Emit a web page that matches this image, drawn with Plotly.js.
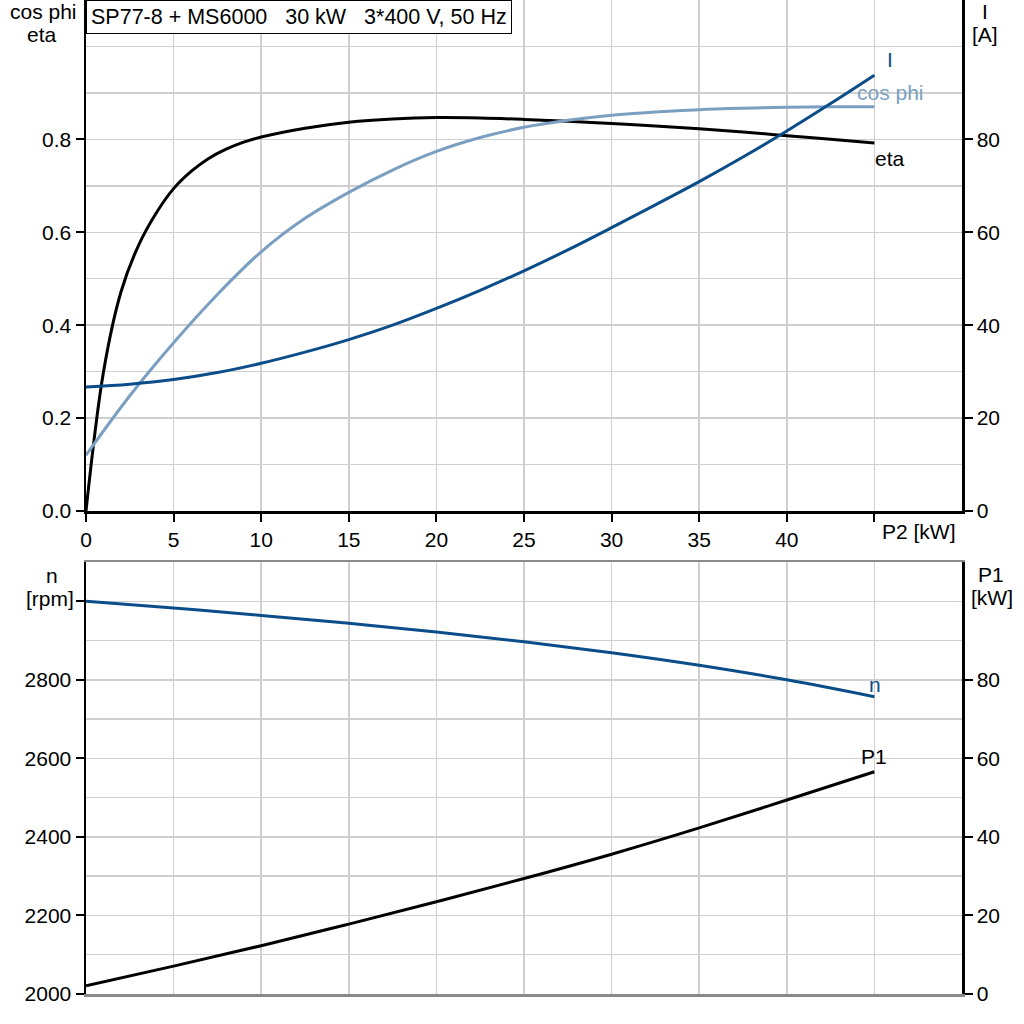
<!DOCTYPE html>
<html>
<head>
<meta charset="utf-8">
<script src="https://cdn.plot.ly/plotly-3.0.1.min.js"></script>
<style>html,body{margin:0;padding:0;background:#fff;}#chart{width:1024px;height:1024px;}</style>
</head>
<body>
<div id="chart"></div>
<script>
// ---- data ----
const titleText = "SP77-8 + MS6000\u00a0\u00a0\u00a030 kW\u00a0\u00a0\u00a03*400 V, 50 Hz";

const etaX = [0, 1, 2, 3, 4, 5, 6, 7, 8, 9, 10, 12.5, 15, 17.5, 20, 22.5, 25, 27.5, 30, 32.5, 35, 37.5, 40, 42.5, 45];
const etaY = [0, 0.300, 0.472, 0.572, 0.641, 0.694, 0.731, 0.759, 0.779, 0.794, 0.805, 0.824, 0.837, 0.844, 0.847, 0.846, 0.843, 0.839, 0.834, 0.829, 0.823, 0.816, 0.808, 0.800, 0.792];

const cosX = [0, 2.5, 5, 7.5, 10, 12.5, 15, 17.5, 20, 22.5, 25, 27.5, 30, 32.5, 35, 37.5, 40, 42.5, 45];
const cosY = [0.12, 0.248, 0.362, 0.466, 0.558, 0.630, 0.686, 0.734, 0.774, 0.804, 0.826, 0.841, 0.852, 0.859, 0.864, 0.867, 0.869, 0.870, 0.870];

const curX = [0, 2.5, 5, 7.5, 10, 12.5, 15, 17.5, 20, 22.5, 25, 27.5, 30, 32.5, 35, 37.5, 40, 42.5, 45];
const curY = [26.7, 27.3, 28.3, 29.8, 31.8, 34.2, 36.9, 40.0, 43.6, 47.5, 51.7, 56.2, 61.0, 65.9, 70.9, 76.2, 81.8, 87.7, 93.8];

const nX = [0, 5, 10, 15, 20, 25, 30, 35, 40, 45];
const nY = [3000, 2983, 2964, 2944, 2922, 2897, 2869, 2837, 2800, 2757];

const p1X = [0, 5, 10, 15, 20, 25, 30, 35, 40, 45];
const p1Y = [2.1, 7.1, 12.3, 17.8, 23.5, 29.4, 35.6, 42.3, 49.4, 56.6];

const xTickVals = [0, 5, 10, 15, 20, 25, 30, 35, 40, 45];
const xTickText = ["0", "5", "10", "15", "20", "25", "30", "35", "40", ""];
const effTickVals = [0, 0.2, 0.4, 0.6, 0.8];
const effTickText = ["0.0", "0.2", "0.4", "0.6", "0.8"];
const ampTickVals = [0, 20, 40, 60, 80];
const rpmTickVals = [2000, 2200, 2400, 2600, 2800, 3000];
const rpmTickText = ["2000", "2200", "2400", "2600", "2800", ""];
const kwTickVals = [0, 20, 40, 60, 80];

// ---- styling ----
const FONT = "Liberation Sans, Arial, sans-serif";
const FS = 21;
const DARK = "#0b4d89";
const LIGHT = "#7a9fc1";
const GRID = "#cfcfcf";
const L = 86, R = 62, T = 0, B = 30;
const PW = 1024 - L - R, PH = 1024 - T - B;
const px = v => (v - L) / PW;
const py = v => (PH + T - v) / PH;

const lineStyle = c => ({color: c, width: 3, shape: 'spline', smoothing: 1});
const traces = [
  {x: etaX, y: etaY, xaxis: 'x', yaxis: 'y', mode: 'lines', line: lineStyle('#000'), hoverinfo: 'skip'},
  {x: cosX, y: cosY, xaxis: 'x', yaxis: 'y', mode: 'lines', line: lineStyle(LIGHT), hoverinfo: 'skip'},
  {x: curX, y: curY, xaxis: 'x', yaxis: 'y2', mode: 'lines', line: lineStyle(DARK), hoverinfo: 'skip'},
  {x: nX, y: nY, xaxis: 'x2', yaxis: 'y3', mode: 'lines', line: lineStyle(DARK), hoverinfo: 'skip'},
  {x: p1X, y: p1Y, xaxis: 'x2', yaxis: 'y4', mode: 'lines', line: lineStyle('#000'), hoverinfo: 'skip'}
];

const topDomain = [py(511), 1];
const botDomain = [0, py(562)];

const tickFont = {family: FONT, size: FS, color: '#000'};

function ann(text, x, y, color, extra) {
  return Object.assign({
    text: text, xref: 'paper', yref: 'paper', x: px(x), y: py(y),
    xanchor: 'center', yanchor: 'middle', showarrow: false,
    font: {family: FONT, size: FS, color: color || '#000'}
  }, extra || {});
}

const layout = {
  width: 1024, height: 1024,
  margin: {l: L, r: R, t: T, b: B, pad: 0},
  paper_bgcolor: '#fff', plot_bgcolor: '#fff',
  showlegend: false,
  font: {family: FONT, size: FS, color: '#000'},
  xaxis: {
    domain: [0, 1], anchor: 'y', range: [0, 50],
    tickmode: 'array', tickvals: xTickVals, ticktext: xTickText,
    ticks: 'outside', ticklen: 8, tickwidth: 2, tickcolor: '#000',
    showline: true, linecolor: '#000', linewidth: 2.5,
    showgrid: true, gridcolor: GRID, gridwidth: 1.5, zeroline: false,
    tickfont: tickFont
  },
  yaxis: {
    domain: topDomain, anchor: 'x', range: [0, 1.1],
    tickmode: 'array', tickvals: effTickVals, ticktext: effTickText,
    ticks: 'outside', ticklen: 8, tickwidth: 2, tickcolor: '#000',
    showline: true, linecolor: '#000', linewidth: 2.5,
    showgrid: true, gridcolor: GRID, gridwidth: 1.5, zeroline: false,
    minor: {tick0: 0, dtick: 0.1, showgrid: true, gridcolor: GRID, gridwidth: 1.5, ticks: ''},
    tickfont: tickFont
  },
  yaxis2: {
    overlaying: 'y', side: 'right', anchor: 'x', range: [0, 110],
    tickmode: 'array', tickvals: ampTickVals,
    ticks: 'outside', ticklen: 8, tickwidth: 2, tickcolor: '#000',
    showline: true, linecolor: '#000', linewidth: 2.5,
    showgrid: false, zeroline: false, tickfont: tickFont
  },
  xaxis2: {
    domain: [0, 1], anchor: 'y3', range: [0, 50],
    tickmode: 'array', tickvals: xTickVals,
    ticks: '', showticklabels: false,
    showline: true, mirror: true, linecolor: '#8a8a8a', linewidth: 2.5,
    showgrid: true, gridcolor: GRID, gridwidth: 1.5, zeroline: false
  },
  yaxis3: {
    domain: botDomain, anchor: 'x2', range: [2000, 3100],
    tickmode: 'array', tickvals: rpmTickVals, ticktext: rpmTickText,
    ticks: 'outside', ticklen: 8, tickwidth: 2, tickcolor: '#000',
    showline: true, linecolor: '#000', linewidth: 2.5,
    showgrid: true, gridcolor: GRID, gridwidth: 1.5, zeroline: false,
    minor: {tick0: 2000, dtick: 100, showgrid: true, gridcolor: GRID, gridwidth: 1.5, ticks: ''},
    tickfont: tickFont
  },
  yaxis4: {
    overlaying: 'y3', side: 'right', anchor: 'x2', range: [0, 110],
    tickmode: 'array', tickvals: kwTickVals,
    ticks: 'outside', ticklen: 8, tickwidth: 2, tickcolor: '#000',
    showline: true, linecolor: '#000', linewidth: 2.5,
    showgrid: false, zeroline: false, tickfont: tickFont
  },
  annotations: [
    {text: titleText, xref: 'paper', yref: 'paper', x: 0, y: 1, xanchor: 'left', yanchor: 'top',
     showarrow: false, align: 'left', width: 416, borderpad: 4, bordercolor: '#000', borderwidth: 1,
     bgcolor: '#fff', font: {family: FONT, size: 21.5, color: '#000'}},
    ann('cos phi', 43, 12),
    ann('eta', 42, 35),
    ann('I', 985, 12),
    ann('[A]', 985, 35),
    ann('n', 52, 575),
    ann('[rpm]', 50, 598),
    ann('P1', 991, 574),
    ann('[kW]', 992, 597),
    ann('P2 [kW]', 880, 531, '#000', {xanchor: 'left'}),
    ann('I', 890, 60, DARK),
    ann('cos phi', 890, 92, LIGHT),
    ann('eta', 890, 158, '#000'),
    ann('n', 875, 684, DARK),
    ann('P1', 874, 757, '#000')
  ]
};

Plotly.newPlot('chart', traces, layout, {staticPlot: true, displayModeBar: false});
</script>
</body>
</html>
